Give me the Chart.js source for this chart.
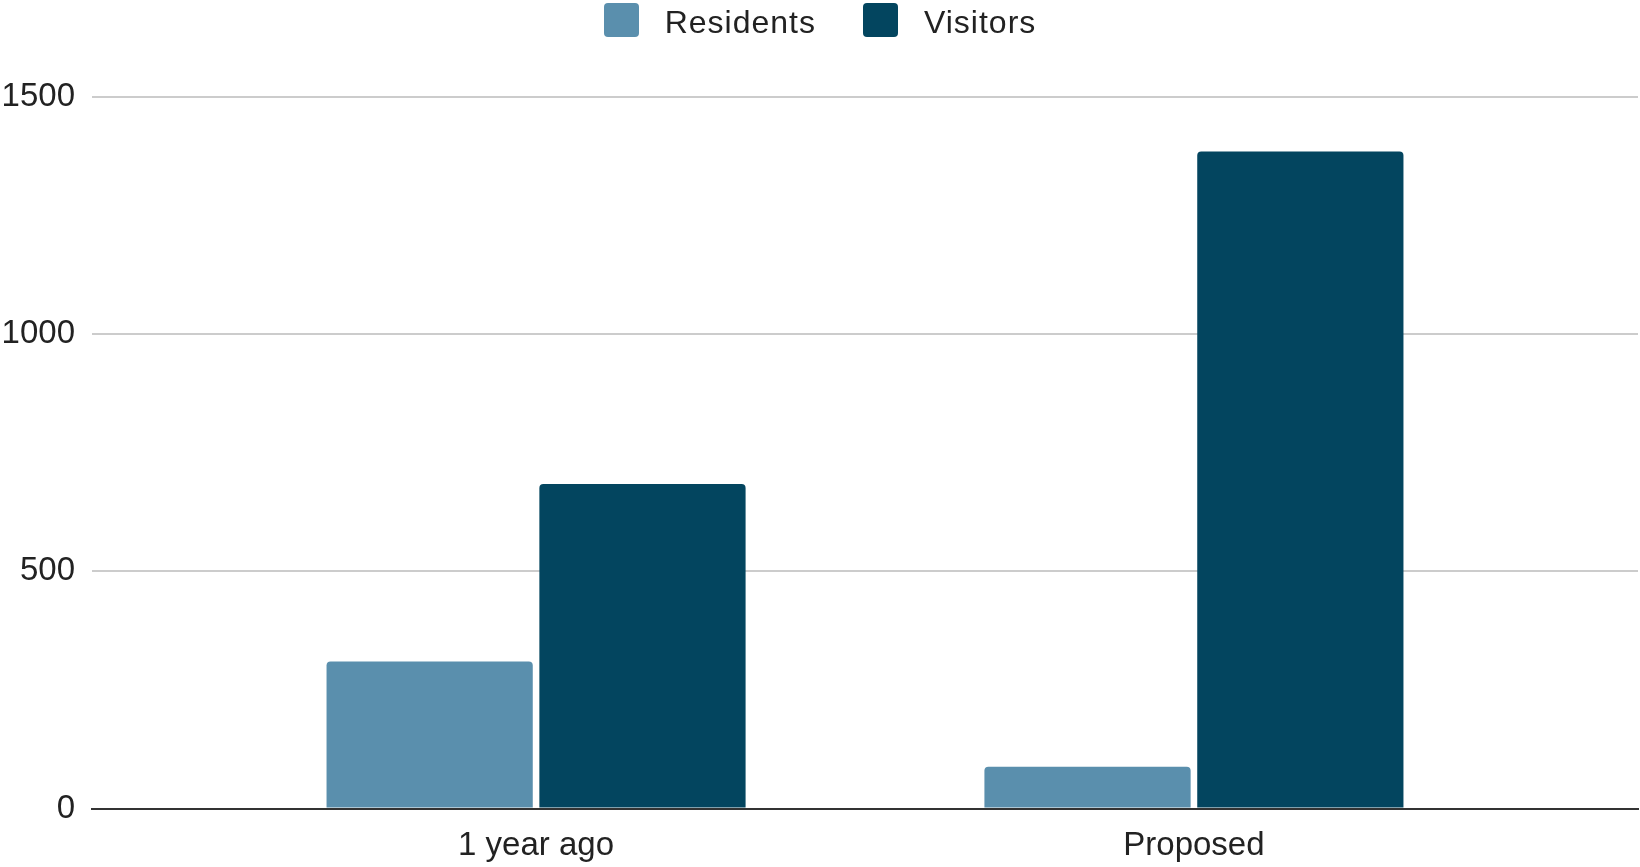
<!DOCTYPE html>
<html>
<head>
<meta charset="utf-8">
<script src="https://cdn.jsdelivr.net/npm/chart.js@4.4.1/dist/chart.umd.min.js"></script>
<style>
  html, body { margin: 0; padding: 0; background: #ffffff; }
  #wrap { width: 1640px; height: 867px; position: relative; }
  #legend {
    position: absolute; left: 0; top: 3px; width: 1640px;
    display: flex; justify-content: center; gap: 47px;
    font-family: 'Liberation Sans', Arial, sans-serif; font-size: 32px; color: #222222;
  }
  .item { display: flex; align-items: center; height: 34px; }
  .swatch { width: 35px; height: 34px; border-radius: 4px; margin-right: 26px; }
  .text { position: relative; top: 2px; line-height: 34px; letter-spacing: 1px; }
</style>
</head>
<body>
<div id="wrap">
  <canvas id="chart"></canvas>
  <div id="legend"></div>
</div>
<script>
// Periods compared, and head counts for each group
const categories = ['1 year ago', 'Proposed'];
const residents = [310, 88];
const visitors = [684, 1385];
const yTicks = [0, 500, 1000, 1500];

const FONT = "'Liberation Sans', Arial, sans-serif";

// Category index -> {x, y} points so the x axis can be a linear scale
const toPoints = (vals) => vals.map((v, i) => ({ x: i, y: v }));

const chart = new Chart(document.getElementById('chart'), {
  type: 'bar',
  data: {
    datasets: [
      {
        label: 'Residents',
        data: toPoints(residents),
        backgroundColor: '#5a8fad',
        borderRadius: 4,
        borderSkipped: 'start'
      },
      {
        label: 'Visitors',
        data: toPoints(visitors),
        backgroundColor: '#03455f',
        borderRadius: 4,
        borderSkipped: 'start'
      }
    ]
  },
  options: {
    responsive: true,
    maintainAspectRatio: false,
    animation: false,
    categoryPercentage: 0.647,
    barPercentage: 0.969,
    layout: { padding: { left: 2, right: 2, top: 97, bottom: 2 } },
    plugins: {
      legend: { display: false },
      tooltip: { enabled: false }
    },
    scales: {
      x: {
        type: 'linear',
        offset: false,
        min: -0.675,
        max: 1.675,
        grid: { display: false, drawTicks: false },
        border: { display: true, color: '#333333', width: 2 },
        afterBuildTicks: (scale) => {
          scale.ticks = categories.map((_, i) => ({ value: i }));
        },
        afterFit: (scale) => { scale.height = 56.5; },
        ticks: {
          padding: 18,
          color: '#222222',
          font: { family: FONT, size: 33 },
          maxRotation: 0,
          autoSkip: false,
          callback: (value) => categories[value] ?? ''
        }
      },
      y: {
        min: 0,
        max: 1500,
        afterBuildTicks: (scale) => {
          scale.ticks = yTicks.map((v) => ({ value: v }));
        },
        afterFit: (scale) => { scale.width = 90; },
        grid: { color: '#cccccc', lineWidth: 2, drawTicks: false },
        border: { display: false },
        ticks: {
          padding: 17,
          color: '#222222',
          font: { family: FONT, size: 33 },
          callback: (value) => String(value)
        }
      }
    }
  }
});

// Legend built from the dataset labels and colours
const legend = document.getElementById('legend');
chart.data.datasets.forEach((ds) => {
  const item = document.createElement('div');
  item.className = 'item';
  const swatch = document.createElement('span');
  swatch.className = 'swatch';
  swatch.style.background = ds.backgroundColor;
  const text = document.createElement('span');
  text.className = 'text';
  text.textContent = ds.label;
  item.appendChild(swatch);
  item.appendChild(text);
  legend.appendChild(item);
});
</script>
</body>
</html>
